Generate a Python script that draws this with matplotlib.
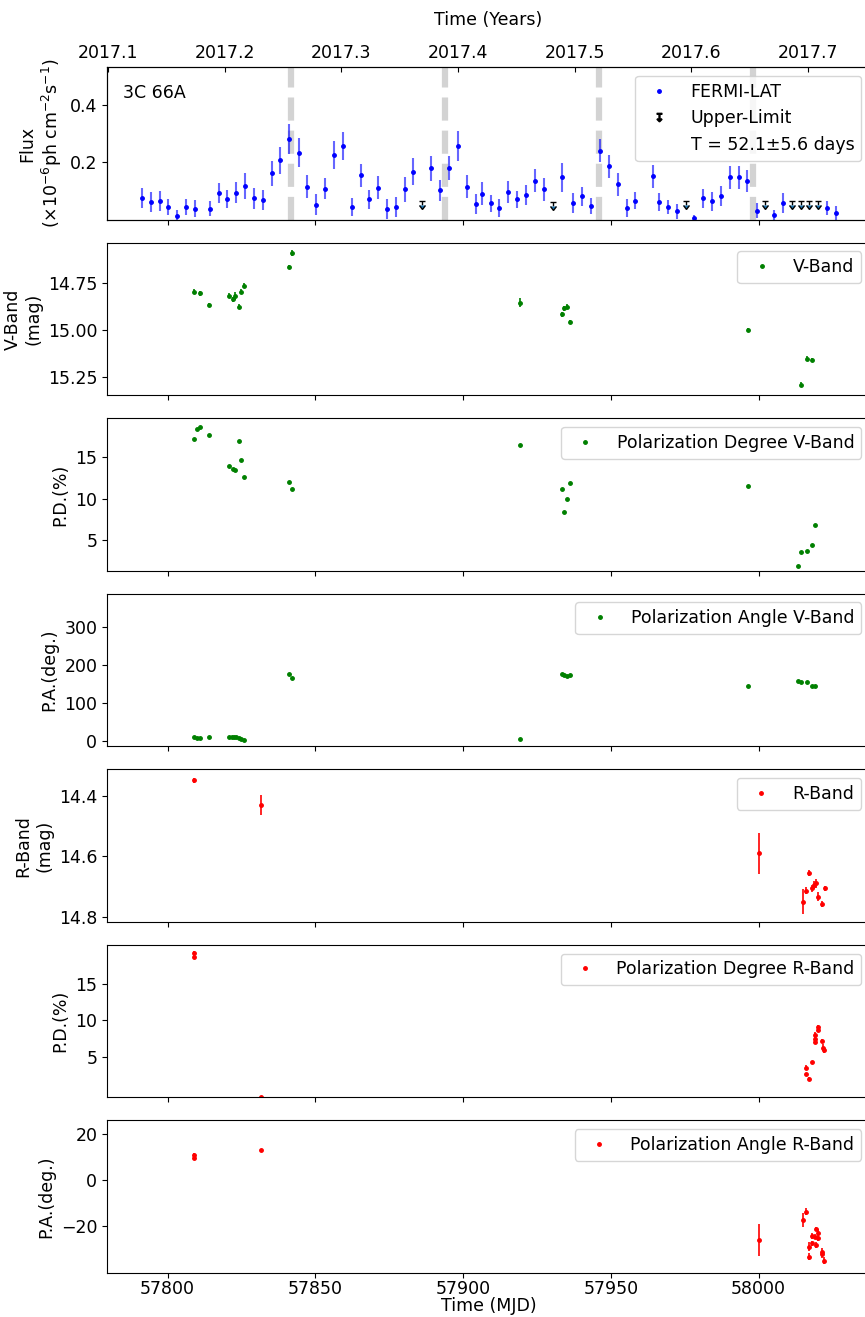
import matplotlib
matplotlib.use('Agg')
import matplotlib.pyplot as plt
from matplotlib.lines import Line2D
from matplotlib.ticker import FormatStrFormatter

plt.rcParams['font.size'] = 12.5

# Fermi-LAT 3-day binned flux (1e-6 ph cm^-2 s^-1)
flux_mjd = [57791.4, 57794.4, 57797.4, 57800.3, 57803.3, 57806.3, 57809.3, 57814.4,
            57817.3, 57820.2, 57823.3, 57826.3, 57829.3, 57832.2, 57835.4, 57838.2,
            57841.2, 57844.4, 57847.3, 57850.3, 57853.4, 57856.3, 57859.4, 57862.3,
            57865.4, 57868.3, 57871.2, 57874.3, 57877.3, 57880.3, 57883.2, 57889.3,
            57892.2, 57895.3, 57898.3, 57901.3, 57904.3, 57906.3, 57909.4, 57912.3,
            57915.3, 57918.3, 57921.3, 57924.3, 57927.3, 57933.3, 57937.3, 57940.4,
            57943.3, 57946.4, 57949.4, 57952.3, 57955.4, 57958.3, 57964.2, 57966.4,
            57969.3, 57972.3, 57978.3, 57981.3, 57984.3, 57987.3, 57990.3, 57993.3,
            57996.2, 57999.4, 58005.2, 58008.3, 58023.2, 58026.2]
flux = [0.077, 0.061, 0.065, 0.045, 0.012, 0.045, 0.039, 0.039,
        0.093, 0.073, 0.094, 0.118, 0.074, 0.068, 0.162, 0.206,
        0.280, 0.233, 0.114, 0.053, 0.108, 0.226, 0.256, 0.044,
        0.155, 0.071, 0.112, 0.038, 0.044, 0.106, 0.167, 0.179,
        0.102, 0.179, 0.256, 0.115, 0.055, 0.090, 0.057, 0.041,
        0.097, 0.071, 0.086, 0.135, 0.106, 0.147, 0.059, 0.082,
        0.047, 0.239, 0.186, 0.124, 0.041, 0.067, 0.151, 0.062,
        0.045, 0.029, 0.006, 0.074, 0.065, 0.082, 0.147, 0.147,
        0.135, 0.032, 0.015, 0.059, 0.041, 0.024]
flux_err = [0.035, 0.035, 0.035, 0.028, 0.022, 0.028, 0.030, 0.025,
            0.035, 0.032, 0.036, 0.045, 0.035, 0.035, 0.043, 0.048,
            0.053, 0.050, 0.040, 0.035, 0.037, 0.048, 0.050, 0.030,
            0.040, 0.033, 0.040, 0.035, 0.035, 0.043, 0.047, 0.043,
            0.035, 0.042, 0.053, 0.040, 0.035, 0.040, 0.030, 0.030,
            0.037, 0.030, 0.035, 0.040, 0.040, 0.050, 0.035, 0.033,
            0.028, 0.040, 0.040, 0.040, 0.030, 0.030, 0.040, 0.030,
            0.025, 0.025, 0.012, 0.033, 0.033, 0.035, 0.040, 0.040,
            0.038, 0.025, 0.020, 0.035, 0.025, 0.025]
ul_mjd = [57886.2, 57930.4, 57975.4, 58002.2, 58011.2, 58014.3, 58017.2, 58020.2]
ul_flux = [0.065, 0.061, 0.065, 0.065, 0.065, 0.065, 0.065, 0.065]
peak_mjd = [57841.8, 57893.9, 57946.0, 57998.1]

# V band
v_mjd = [57809.1, 57810.9, 57813.9, 57820.9, 57822.1, 57822.8, 57824.0, 57825.0,
         57826.0, 57841.0, 57842.0, 57919.3, 57933.4, 57934.3, 57935.3, 57936.2,
         57996.3, 58014.3, 58016.3, 58018.2]
v_mag = [14.798, 14.807, 14.869, 14.819, 14.839, 14.821, 14.878, 14.798,
         14.766, 14.668, 14.594, 14.856, 14.918, 14.887, 14.878, 14.959,
         15.000, 15.290, 15.152, 15.161]
v_err = [0.012, 0.012, 0.012, 0.012, 0.012, 0.020, 0.012, 0.012,
         0.012, 0.012, 0.014, 0.025, 0.012, 0.012, 0.012, 0.012,
         0.012, 0.012, 0.012, 0.012]

pdv_mjd = [57809.1, 57809.9, 57810.9, 57813.9, 57820.9, 57822.1, 57822.8, 57824.0,
           57825.0, 57826.0, 57841.0, 57842.0, 57919.3, 57933.4, 57934.3, 57935.3,
           57936.2, 57996.3, 58013.3, 58014.3, 58016.3, 58018.2, 58019.2]
pdv = [17.17, 18.36, 18.68, 17.73, 13.89, 13.62, 13.42, 16.94,
       14.68, 12.67, 11.96, 11.13, 16.42, 11.13, 8.36, 10.02,
       11.92, 11.56, 1.84, 3.54, 3.73, 4.37, 6.82]

pav_mjd = [57809.1, 57809.9, 57810.9, 57813.9, 57820.9, 57821.7, 57822.5, 57823.3,
           57824.0, 57824.8, 57826.0, 57841.0, 57842.0, 57919.3, 57933.4, 57934.3,
           57935.3, 57936.2, 57996.3, 58013.3, 58014.3, 58016.3, 58018.2, 58019.2]
pav = [10, 9, 9, 10, 10, 10, 10, 10, 9, 6, 4, 176, 165, 6,
       178, 174, 172, 175, 146, 158, 156, 156, 145, 146]

# R band
r_mjd = [57809.0, 57831.6, 58000.0, 58014.9, 58016.2, 58017.0,
         58018.2, 58018.8, 58019.3, 58020.1, 58021.3, 58022.3]
r_mag = [14.347, 14.428, 14.590, 14.750, 14.714, 14.656,
         14.706, 14.695, 14.690, 14.734, 14.758, 14.706]
r_err = [0.009, 0.033, 0.068, 0.040, 0.012, 0.010,
         0.012, 0.012, 0.015, 0.015, 0.010, 0.008]

pdr_mjd = [57809.0, 57809.0, 57831.6, 58016.2, 58016.2, 58017.0, 58018.2, 58019.0,
           58019.0, 58019.0, 58020.1, 58020.1, 58021.3, 58021.8, 58022.1]
pdr = [19.2, 18.7, -0.6, 3.5, 2.6, 1.9, 4.2, 8.0, 7.4, 7.0, 9.0, 8.7, 7.1, 6.2, 5.9]
pdr_err = [0.2, 0.2, 0.2, 0.3, 0.2, 0.3, 0.2, 0.3, 0.3, 0.3, 0.3, 0.3, 0.3, 0.5, 0.4]

par_mjd = [57809.0, 57809.0, 57831.6, 58000.0, 58014.9, 58016.2, 58017.0, 58017.0,
           58018.2, 58018.2, 58019.0, 58019.3, 58019.3, 58020.1, 58020.1, 58021.3,
           58021.3, 58022.2]
par = [10.9, 9.5, 12.8, -26.0, -17.4, -13.8, -28.9, -33.2, -24.3, -27.5,
       -24.6, -21.3, -28.2, -22.9, -25.3, -31.1, -32.2, -35.0]
par_err = [0.6, 0.6, 0.5, 6.9, 2.9, 1.4, 2.0, 1.5, 1.2, 1.2,
           1.0, 1.0, 1.5, 1.5, 1.2, 1.5, 1.5, 1.5]

year_ticks = [2017.1, 2017.2, 2017.3, 2017.4, 2017.5, 2017.6, 2017.7]

fig, axes = plt.subplots(7, 1, sharex=True, figsize=(8.65, 13.17), dpi=100)
fig.subplots_adjust(left=0.1237, right=1.0058, top=0.949, bottom=0.0334, hspace=0.15)

# Fermi panel
ax = axes[0]
for m in peak_mjd:
    ax.axvline(m, color='lightgray', lw=4.5, ls='--', zorder=0)
ax.errorbar(flux_mjd, flux, yerr=flux_err, fmt='none', ecolor='blue', elinewidth=1.5, alpha=0.6)
h_fermi, = ax.plot(flux_mjd, flux, '.', color='blue', ms=5, label='FERMI-LAT')
ax.errorbar(ul_mjd, ul_flux, yerr=0.012, uplims=True, fmt='none', ecolor='k',
            capsize=2, elinewidth=1)
h_ul = Line2D([], [], ls='none', marker='$↧$', color='k', ms=6, label='Upper-Limit')
h_t, = ax.plot([], [], ' ', label='T = 52.1±5.6 days')
ax.legend(handles=[h_fermi, h_ul, h_t], loc='upper right')
ax.text(0.021, 0.83, '3C 66A', transform=ax.transAxes, va='center')
ax.set_ylim(0, 0.53)
ax.set_yticks([0.2, 0.4])
ax.set_ylabel('Flux\n(×10$^{-6}$ph cm$^{-2}$s$^{-1}$)')
ax_top = ax.twiny()
ax_top.set_xlim(2017.099, 2017.7534)
ax_top.set_xticks(year_ticks)
ax_top.xaxis.set_major_formatter(FormatStrFormatter('%.1f'))
ax_top.tick_params(axis='x', direction='in')
ax_top.set_xlabel('Time (Years)', labelpad=14)

# V band panels
ax = axes[1]
ax.errorbar(v_mjd, v_mag, yerr=v_err, fmt='none', ecolor='green', elinewidth=1.2)
ax.plot(v_mjd, v_mag, '.', color='green', ms=5, label='V-Band')
ax.set_ylim(15.347, 14.539)
ax.set_yticks([14.75, 15.00, 15.25])
ax.set_ylabel('V-Band\n(mag)')
ax.legend(loc='upper right')

ax = axes[2]
ax.plot(pdv_mjd, pdv, '.', color='green', ms=5, label='Polarization Degree V-Band')
ax.set_ylim(1.3, 19.7)
ax.set_yticks([5, 10, 15])
ax.set_ylabel('P.D.(%)')
ax.legend(loc='upper right')

ax = axes[3]
ax.plot(pav_mjd, pav, '.', color='green', ms=5, label='Polarization Angle V-Band')
ax.set_ylim(-14, 388)
ax.set_yticks([0, 100, 200, 300])
ax.set_ylabel('P.A.(deg.)')
ax.legend(loc='upper right')

# R band panels
ax = axes[4]
ax.errorbar(r_mjd, r_mag, yerr=r_err, fmt='none', ecolor='red', elinewidth=1.2)
ax.plot(r_mjd, r_mag, '.', color='red', ms=5, label='R-Band')
ax.set_ylim(14.818, 14.31)
ax.set_yticks([14.4, 14.6, 14.8])
ax.set_ylabel('R-Band\n(mag)')
ax.legend(loc='upper right')

ax = axes[5]
ax.errorbar(pdr_mjd, pdr, yerr=pdr_err, fmt='none', ecolor='red', elinewidth=1.2)
ax.plot(pdr_mjd, pdr, '.', color='red', ms=5, label='Polarization Degree R-Band')
ax.set_ylim(-0.6, 20.3)
ax.set_yticks([5, 10, 15])
ax.set_ylabel('P.D.(%)')
ax.legend(loc='upper right')

ax = axes[6]
ax.errorbar(par_mjd, par, yerr=par_err, fmt='none', ecolor='red', elinewidth=1.2)
ax.plot(par_mjd, par, '.', color='red', ms=5, label='Polarization Angle R-Band')
ax.set_ylim(-40.3, 25.7)
ax.set_yticks([-20, 0, 20])
ax.set_ylabel('P.A.(deg.)')
ax.legend(loc='upper right')

ax.set_xlim(57779.5, 58037.7)
ax.set_xticks([57800, 57850, 57900, 57950, 58000])
ax.tick_params(axis='x', pad=1.5)
ax.set_xlabel('Time (MJD)', labelpad=-1)

fig.savefig('out.png', dpi=100)
